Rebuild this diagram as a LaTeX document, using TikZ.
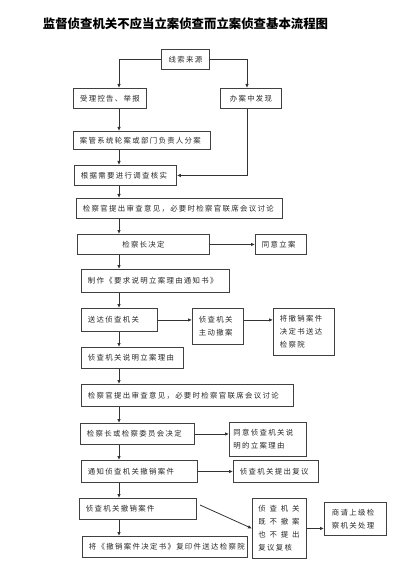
\documentclass[tikz,border=0pt]{standalone}
\usepackage{fontspec}
\newfontfamily\cjk[LetterSpace=18]{Noto Sans CJK SC}
\newfontfamily\cjktitle{Noto Sans CJK SC}
\usetikzlibrary{arrows.meta}
\newcommand\spreadline[1]{\makebox[41pt][l]{#1}}
\begin{document}
\begin{tikzpicture}[x=1pt,y=-1pt,
  bx/.style={draw=black!75, line width=0.9pt, anchor=north west, inner xsep=6.5pt, inner ysep=0pt,
    align=left, font=\cjk\fontsize{7.4}{13}\selectfont, text=black!85},
  cbx/.style={bx, align=center, inner xsep=3pt},
  arr/.style={draw=black!80, line width=0.8pt, -{Latex[length=4pt,width=3.5pt]}}]
\useasboundingbox (0,0) rectangle (405,577);
\node[font=\cjktitle\bfseries\fontsize{12.4}{14}\selectfont] (title) at (185.5,24) {监督侦查机关不应当立案侦查而立案侦查基本流程图};
\node[cbx, text width=42pt, minimum height=20pt] (src) at (161,49) {线索来源};
\node[cbx, text width=67pt, minimum height=20pt] (shouli) at (73,88) {受理控告、举报};
\node[cbx, text width=55pt, minimum height=20pt] (banan) at (220,88) {办案中发现};
\node[bx, text width=124pt, minimum height=18pt] (anguan) at (73,131) {案管系统轮案或部门负责人分案};
\node[bx, text width=89pt, minimum height=20pt] (genju) at (74,165) {根据需要进行调查核实};
\node[bx, text width=193pt, minimum height=20pt] (jcg1) at (76,198) {检察官提出审查意见，必要时检察官联席会议讨论};
\node[cbx, text width=126pt, minimum height=20pt] (jcz) at (77,234) {检察长决定};
\node[bx, text width=38pt, minimum height=20pt] (tongyi) at (255,234) {同意立案};
\node[bx, text width=135pt, minimum height=23pt] (zhizuo) at (81,269) {制作《要求说明立案理由通知书》};
\node[bx, text width=63pt, minimum height=23pt] (songda) at (81,308) {送达侦查机关};
\node[bx, text width=38pt, minimum height=36pt] (zhudong) at (192,308) {侦查机关\\主动撤案};
\node[bx, text width=48pt, minimum height=47pt] (jiang) at (273,308) {将撤销案件\\决定书送达\\检察院};
\node[bx, text width=89pt, minimum height=21pt] (shuoming) at (81,347) {侦查机关说明立案理由};
\node[bx, text width=199pt, minimum height=22pt] (jcg2) at (81,384) {检察官提出审查意见，必要时检察官联席会议讨论};
\node[bx, text width=101pt, minimum height=21pt] (jczw) at (80,423) {检察长或检察委员会决定};
\node[bx, inner xsep=4pt, text width=69pt, minimum height=34pt] (tongyi2) at (229,422) {同意侦查机关说\\明的立案理由};
\node[bx, text width=103pt, minimum height=22pt] (tongzhi) at (81,460) {通知侦查机关撤销案件};
\node[bx, text width=72pt, minimum height=22pt] (fuyi) at (233,460) {侦查机关提出复议};
\node[bx, text width=104pt, minimum height=21pt] (chexiao) at (79,498) {侦查机关撤销案件};
\node[bx, text width=152pt, minimum height=21pt] (jiangfu) at (82,536) {将《撤销案件决定书》复印件送达检察院};
\node[bx, inner xsep=6pt, text width=42pt, minimum height=60pt] (jibu) at (252,498)
  {\spreadline{侦\hfill 查\hfill 机\hfill 关}\\\spreadline{既\hfill 不\hfill 撤\hfill 案}\\\spreadline{也\hfill 不\hfill 提\hfill 出}\\复议复核};
\node[bx, inner xsep=7.5pt, text width=47pt, minimum height=33pt] (shangqing) at (324,502) {商请上级检\\察机关处理};
\coordinate (c1) at (119,0);
\coordinate (c2) at (247,0);
\coordinate (d0) at (200,505);
\draw[arr] (src.west) -| (shouli.north -| c1);
\draw[arr] (src.east) -| (banan.north -| c2);
\draw[arr] (shouli.south -| c1) -- (anguan.north -| c1);
\draw[arr] (anguan.south -| c1) -- (genju.north -| c1);
\draw[arr] (banan.south -| c2) |- (genju.east);
\draw[arr] (genju.south -| c1) -- (jcg1.north -| c1);
\draw[arr] (jcg1.south -| c1) -- (jcz.north -| c1);
\draw[arr] (jcz.east) -- (tongyi.west);
\draw[arr] (jcz.south -| c1) -- (zhizuo.north -| c1);
\draw[arr] (zhizuo.south -| c1) -- (songda.north -| c1);
\draw[arr] (songda.east) -- (songda.east -| zhudong.west);
\draw[arr] (zhudong.east |- songda.east) -- (jiang.west |- songda.east);
\draw[arr] (songda.south -| c1) -- (shuoming.north -| c1);
\draw[arr] (shuoming.south -| c1) -- (jcg2.north -| c1);
\draw[arr] (jcg2.south -| c1) -- (jczw.north -| c1);
\draw[arr] (jczw.east) -- (jczw.east -| tongyi2.west);
\draw[arr] (jczw.south -| c1) -- (tongzhi.north -| c1);
\draw[arr] (tongzhi.east) -- (tongzhi.east -| fuyi.west);
\draw[arr] (tongzhi.south -| c1) -- (chexiao.north -| c1);
\draw[arr] (chexiao.south -| c1) -- (jiangfu.north -| c1);
\draw[arr] (d0) -- (jibu.west);
\draw[arr] (jibu.east) -- (jibu.east -| shangqing.west);
\end{tikzpicture}
\end{document}
